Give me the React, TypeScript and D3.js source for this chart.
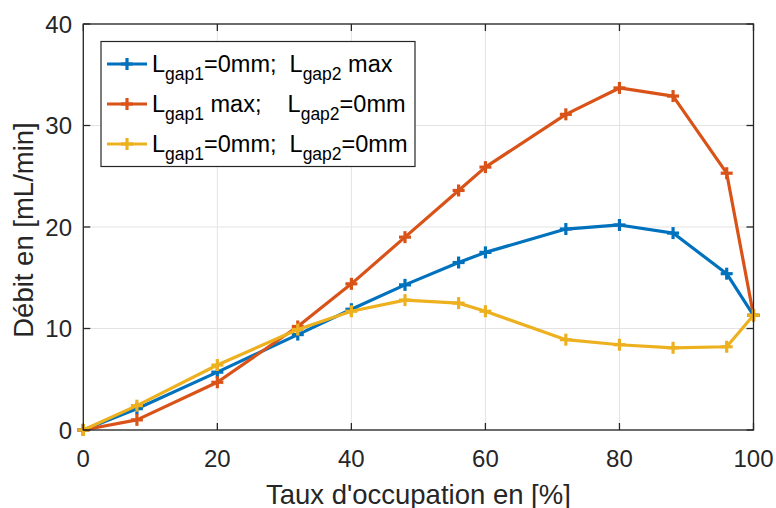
import React from "react";
import * as d3 from "d3";

const xValues = [0, 8, 20, 32, 40, 48, 56, 60, 72, 80, 88, 96, 100];
const seriesBlue = [0, 2.1, 5.7, 9.4, 11.9, 14.3, 16.5, 17.5, 19.8, 20.2, 19.4, 15.4, 11.3];
const seriesOrange = [0, 1.0, 4.7, 10.2, 14.4, 19.0, 23.6, 25.9, 31.1, 33.7, 32.9, 25.3, 11.3];
const seriesYellow = [0, 2.4, 6.4, 9.9, 11.7, 12.8, 12.5, 11.7, 8.9, 8.4, 8.1, 8.2, 11.3];
const xTicks = [0, 20, 40, 60, 80, 100];
const yTicks = [0, 10, 20, 30, 40];
const xLabel = "Taux d'occupation en [%]";
const yLabel = "Débit en [mL/min]";

const series = [
  { values: seriesBlue, color: "#0072BD", legend: [["L", ""], ["gap1", "sub"], ["=0mm;  L", ""], ["gap2", "sub"], [" max", ""]] },
  { values: seriesOrange, color: "#D95319", legend: [["L", ""], ["gap1", "sub"], [" max;    L", ""], ["gap2", "sub"], ["=0mm", ""]] },
  { values: seriesYellow, color: "#EDB120", legend: [["L", ""], ["gap1", "sub"], ["=0mm;  L", ""], ["gap2", "sub"], ["=0mm", ""]] },
];

export default function App() {
  const W = 776, H = 508;
  const left = 83.3, right = 753.5, top = 24, bottom = 430;
  const x = d3.scaleLinear().domain([0, 100]).range([left, right]);
  const y = d3.scaleLinear().domain([0, 40]).range([bottom, top]);
  const line = d3.line<number>().x((_, i) => x(xValues[i])).y((d) => y(d));
  const font = "'Liberation Sans', Arial, Helvetica, sans-serif";
  const axisColor = "#262626";
  const m = 6;

  return (
    <svg width={W} height={H} style={{ position: "absolute", left: 0, top: 0, fontFamily: font }}>
      <rect width={W} height={H} fill="#fff" />
      {xTicks.map((t) => (
        <line key={"gx" + t} x1={x(t)} x2={x(t)} y1={top} y2={bottom} stroke="#e3e3e3" strokeWidth={1} />
      ))}
      {yTicks.map((t) => (
        <line key={"gy" + t} x1={left} x2={right} y1={y(t)} y2={y(t)} stroke="#e3e3e3" strokeWidth={1} />
      ))}
      {series.map((s, si) => (
        <g key={si}>
          <path d={line(s.values) || ""} fill="none" stroke={s.color} strokeWidth={3.2} strokeLinejoin="round" />
          {s.values.map((v, i) => (
            <g key={i} stroke={s.color} strokeWidth={3.2}>
              <line x1={x(xValues[i]) - m} x2={x(xValues[i]) + m} y1={y(v)} y2={y(v)} />
              <line x1={x(xValues[i])} x2={x(xValues[i])} y1={y(v) - m} y2={y(v) + m} />
            </g>
          ))}
        </g>
      ))}
      <rect x={left} y={top} width={right - left} height={bottom - top} fill="none" stroke={axisColor} strokeWidth={1.3} />
      {xTicks.map((t) => (
        <g key={"tx" + t} stroke={axisColor} strokeWidth={1.3}>
          <line x1={x(t)} x2={x(t)} y1={bottom} y2={bottom - 7} />
          <line x1={x(t)} x2={x(t)} y1={top} y2={top + 7} />
        </g>
      ))}
      {yTicks.map((t) => (
        <g key={"ty" + t} stroke={axisColor} strokeWidth={1.3}>
          <line x1={left} x2={left + 7} y1={y(t)} y2={y(t)} />
          <line x1={right} x2={right - 7} y1={y(t)} y2={y(t)} />
        </g>
      ))}
      {xTicks.map((t) => (
        <text key={"lx" + t} x={x(t)} y={467} textAnchor="middle" fontSize={24} fill={axisColor}>{t}</text>
      ))}
      {yTicks.map((t) => (
        <text key={"ly" + t} x={72} y={y(t) + 8.5} textAnchor="end" fontSize={24} fill={axisColor}>{t}</text>
      ))}
      <text x={(left + right) / 2} y={503.5} textAnchor="middle" fontSize={27.5} fill={axisColor}>{xLabel}</text>
      <text transform={`translate(33,230) rotate(-90)`} textAnchor="middle" fontSize={27.5} fill={axisColor}>{yLabel}</text>
      <rect x={101} y={41.5} width={314} height={125} fill="#fff" stroke={axisColor} strokeWidth={1.2} />
      {series.map((s, si) => {
        const cy = 64 + si * 40;
        return (
          <g key={"lg" + si}>
            <line x1={107} x2={147} y1={cy} y2={cy} stroke={s.color} strokeWidth={3.2} />
            <line x1={127 - m} x2={127 + m} y1={cy} y2={cy} stroke={s.color} strokeWidth={3.2} />
            <line x1={127} x2={127} y1={cy - m} y2={cy + m} stroke={s.color} strokeWidth={3.2} />
            <text x={152} y={cy + 7.5} fontSize={23.5} fill="#000" style={{ whiteSpace: "pre" }}>
              {s.legend.map(([txt, kind], k) =>
                kind === "sub" ? (
                  <tspan key={k} fontSize={17.5} dy={8.5}>{txt}</tspan>
                ) : (
                  <tspan key={k} dy={k === 0 ? 0 : -8.5}>{txt}</tspan>
                )
              )}
            </text>
          </g>
        );
      })}
    </svg>
  );
}
